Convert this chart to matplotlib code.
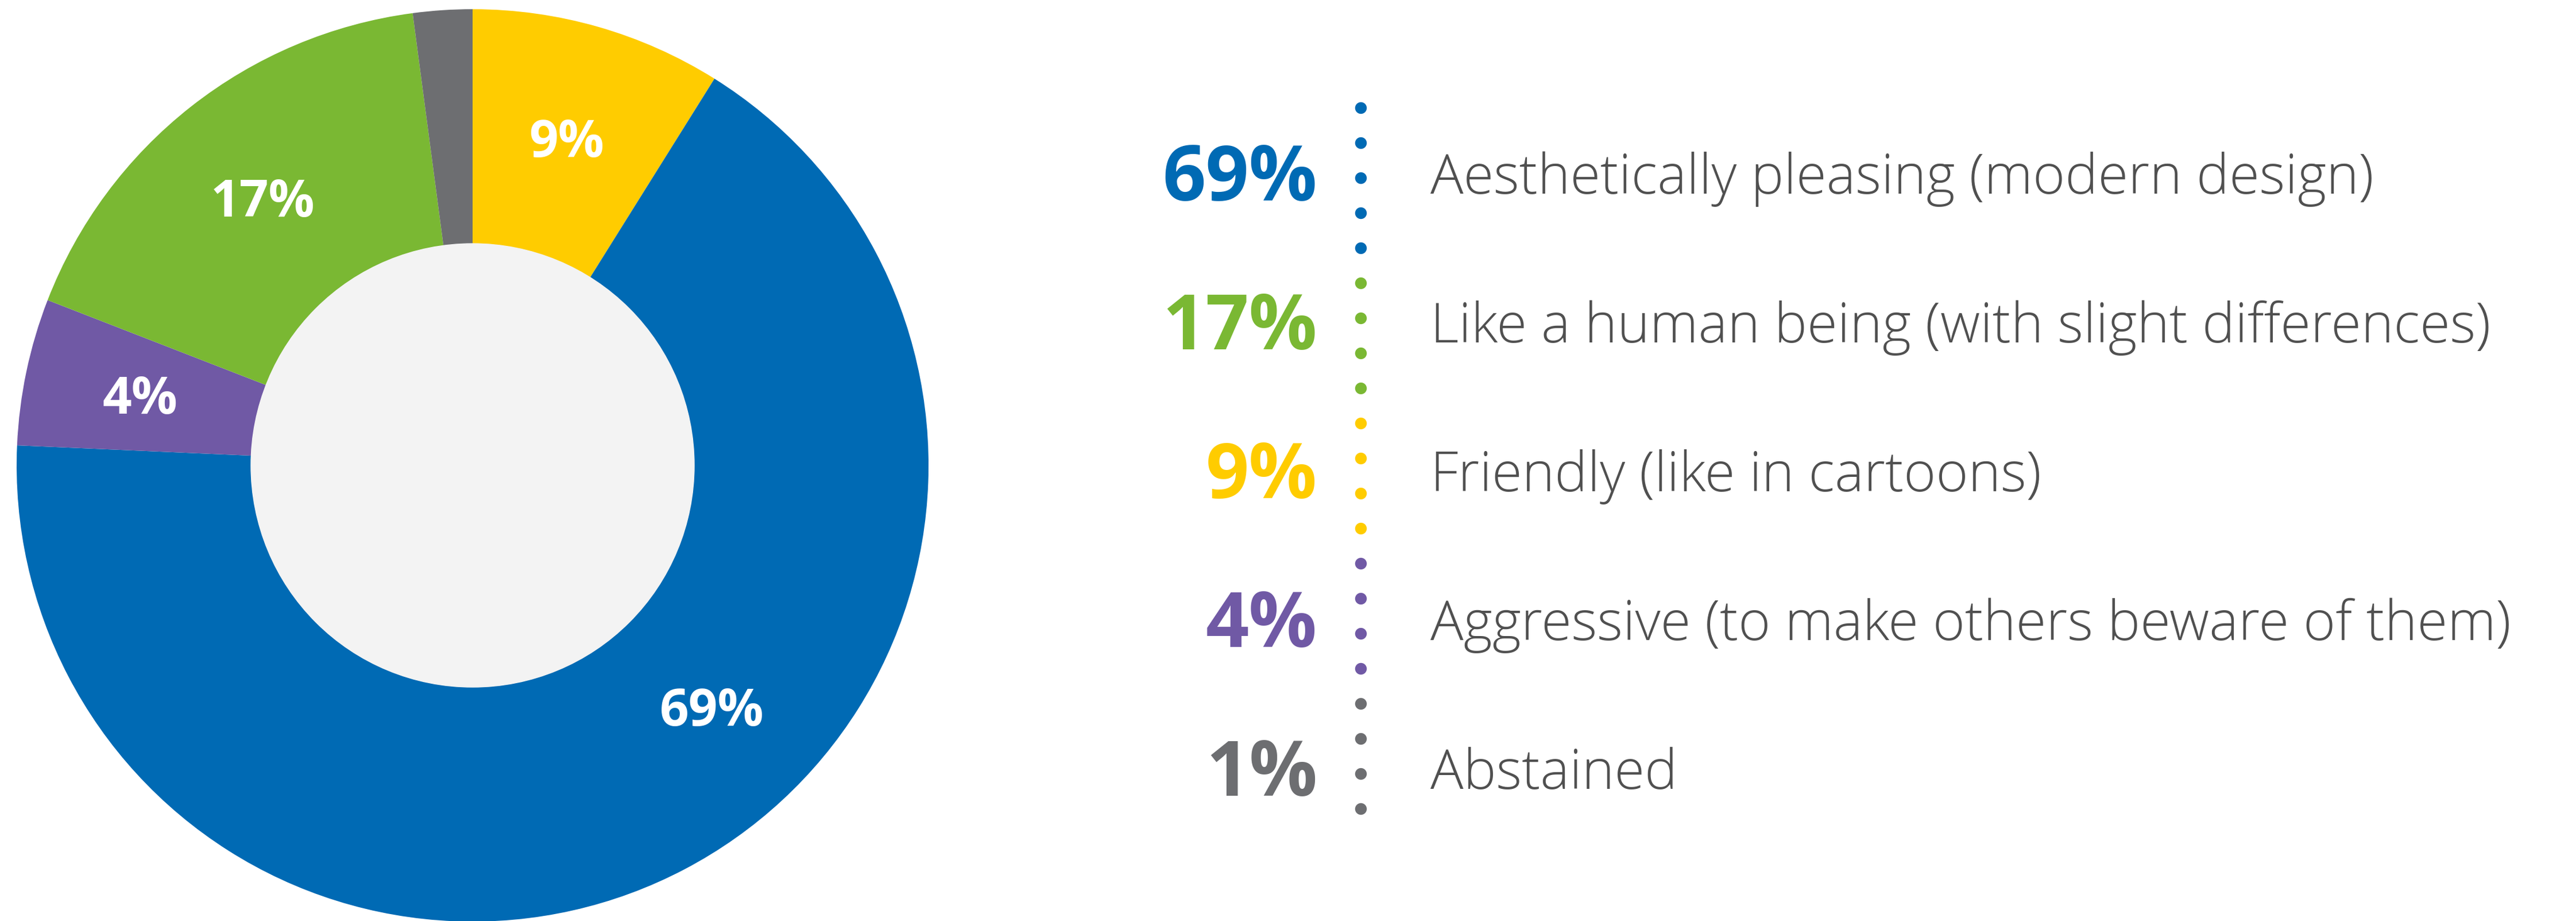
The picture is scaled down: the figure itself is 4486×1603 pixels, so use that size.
import matplotlib.pyplot as plt
import numpy as np

# slices clockwise from 12 o'clock, as drawn in the donut
slice_share = [8.9, 66.8, 5.2, 17.0, 2.1]
slice_text = ['9%', '69%', '4%', '17%', '']
slice_colors = ['#FFCC00', '#006AB4', '#7059A5', '#7AB833', '#6D6E71']
label_shift = [0, 17, 0, 0, 0]   # degrees, the 69% label sits off-centre

# right-hand key
key_pct = ['69%', '17%', '9%', '4%', '1%']
key_text = ['Aesthetically pleasing (modern design)',
            'Like a human being (with slight differences)',
            'Friendly (like in cartoons)',
            'Aggressive (to make others beware of them)',
            'Abstained']
key_colors = ['#006AB4', '#7AB833', '#FFCC00', '#7059A5', '#6D6E71']
dots_per_group = [5, 4, 4, 4, 4]

W, H = 4486, 1603
fig = plt.figure(figsize=(W / 100, H / 100), dpi=100)
ax = fig.add_axes([0, 0, 1, 1])

cx, cy, R = 823, H - 810, 794
wedges, _ = ax.pie(slice_share, colors=slice_colors, startangle=90,
                   counterclock=False, radius=R, center=(cx, cy),
                   wedgeprops=dict(linewidth=0))
ax.add_patch(plt.Circle((cx, cy), 386, color='#F3F3F3', zorder=3))

for w, txt, sh in zip(wedges, slice_text, label_shift):
    if not txt:
        continue
    a = np.deg2rad((w.theta1 + w.theta2) / 2 + sh)
    x = cx + 592 * np.cos(a)
    y = cy + 592 * np.sin(a) - 32
    ax.text(x, y, txt, color='white', fontsize=64, fontweight='bold',
            family='Open Sans', ha='center', va='baseline', zorder=4)

# dotted separator
dot_y = H - (188 + 61 * np.arange(sum(dots_per_group)))
dot_c = np.repeat(key_colors, dots_per_group)
ax.scatter(np.full(len(dot_y), 2370), dot_y, s=215, c=list(dot_c),
           linewidths=0, zorder=3)

for i in range(len(key_pct)):
    yc = H - (303 + 259 * i)
    ax.text(2294, yc - 46, key_pct[i], color=key_colors[i], fontsize=95,
            fontweight='bold', family='Open Sans', ha='right', va='baseline')
    ax.text(2491, yc - 34, key_text[i], color='#505050', fontsize=69,
            fontweight='light', family='Open Sans', ha='left', va='baseline')

ax.set_xlim(0, W)
ax.set_ylim(0, H)
ax.set_aspect('auto')
ax.axis('off')

fig.savefig('out.png', dpi=100, facecolor='white')
